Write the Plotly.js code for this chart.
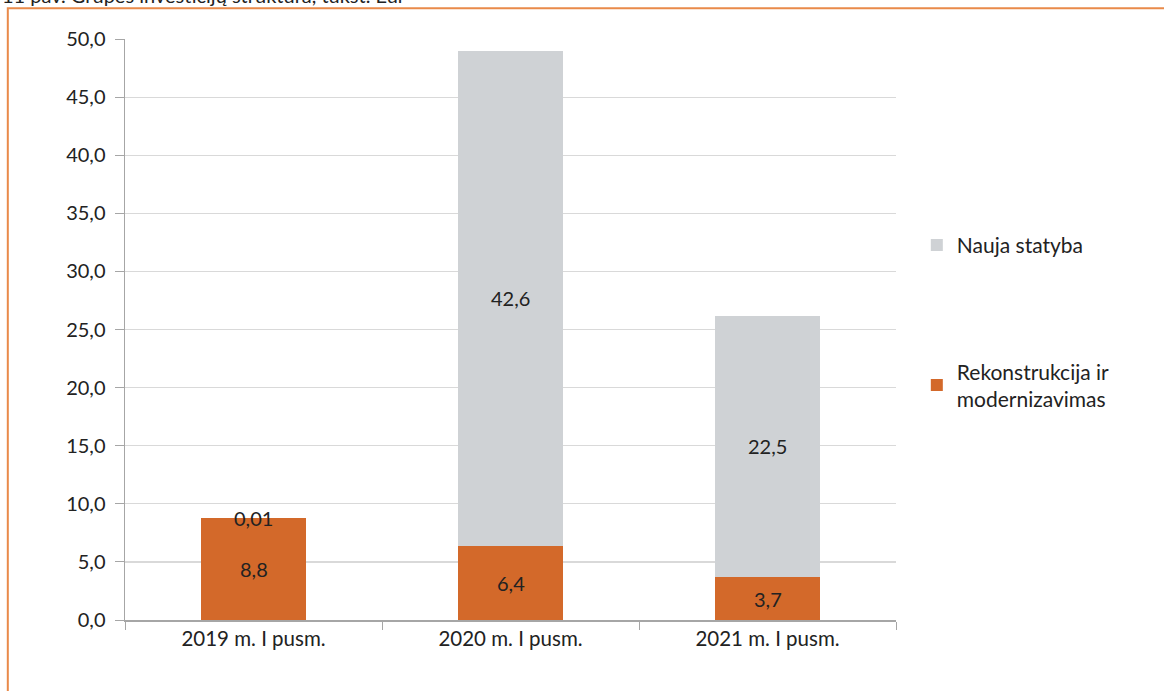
<!DOCTYPE html>
<html><head><meta charset="utf-8">
<script src="https://cdn.plot.ly/plotly-3.0.1.min.js"></script>
<style>html,body{margin:0;padding:0;background:#fff;}#chart{width:1164px;height:691px;}</style>
</head><body><div id="chart"></div>
<script>
var categories = ["2019 m. I pusm.", "2020 m. I pusm.", "2021 m. I pusm."];
var rekonstrukcija = [8.8, 6.4, 3.7];
var naujaStatyba = [0.01, 42.6, 22.5];
var rekLabels = ["8,8", "6,4", "3,7"];
var naujaLabels = ["0,01", "42,6", "22,5"];
var yTicks = [0,5,10,15,20,25,30,35,40,45,50];

var FONT = "Lato, 'Open Sans', sans-serif";
var traces = [
  {type:'bar', name:'Rekonstrukcija ir<br>modernizavimas', x:categories, y:rekonstrukcija,
   marker:{color:'#d3692a'}, legendgroup:'a', legendrank:2, hoverinfo:'none'},
  {type:'bar', name:'Nauja statyba', x:categories, y:naujaStatyba,
   marker:{color:'#cfd2d5'}, legendgroup:'b', legendrank:1, hoverinfo:'none'}
];
var ann = [];
for (var i=0;i<categories.length;i++){
  ann.push({x:categories[i], y:rekonstrukcija[i]/2, text:rekLabels[i], showarrow:false, font:{size:20,color:'#222',family:FONT}, xref:'x', yref:'y'});
  var stackTop = rekonstrukcija[i]+naujaStatyba[i];
  var yy = naujaStatyba[i] < 1 ? stackTop : rekonstrukcija[i]+naujaStatyba[i]/2;
  ann.push({x:categories[i], y:yy, text:naujaLabels[i], showarrow:false, font:{size:20,color:'#222',family:FONT}, xref:'x', yref:'y'});
}
ann.push({xref:'paper', yref:'paper', x:-0.162, y:1.052, xanchor:'left', yanchor:'bottom',
  text:'11 pav. Grupės investicijų struktūra, tūkst. Eur', showarrow:false, font:{size:20,color:'#222',family:FONT}});
var layout = {
  width:1164, height:691,
  margin:{l:125, r:268, t:39, b:71, pad:0},
  paper_bgcolor:'#fff', plot_bgcolor:'#fff',
  separators:', ',
  barmode:'stack', bargap:0.595,
  font:{family:FONT, size:20, color:'#222'},
  xaxis:{type:'category', showline:true, linecolor:'#a6a6a6', linewidth:1.5, ticks:'outside', tickson:'boundaries',
    ticklen:8, tickcolor:'#a6a6a6', tickfont:{size:20.5,family:FONT,color:'#222'}, showgrid:false},
  yaxis:{range:[0,50], tickvals:yTicks, tickformat:'.1f', showline:true, linecolor:'#a6a6a6', linewidth:1.5,
    ticks:'outside', ticklen:9, tickcolor:'#a6a6a6', gridcolor:'#d9d9d9', gridwidth:1.2, zeroline:false,
    tickfont:{size:20,family:FONT,color:'#222'}, ticklabelstandoff:5},
  showlegend:true,
  legend:{x:1.027, xanchor:'left', y:0.68, yanchor:'top', traceorder:'grouped', tracegroupgap:96,
    font:{size:21,family:FONT,color:'#222'}},
  annotations:ann,
  shapes:[{type:'rect', xref:'paper', yref:'paper', x0:-0.152, x1:1.36, y0:-0.2, y1:1.053,
    line:{color:'#e98a4a', width:2}, fillcolor:'rgba(0,0,0,0)', layer:'below'}]
};
Plotly.newPlot('chart', traces, layout, {displayModeBar:false, staticPlot:true});
</script></body></html>
